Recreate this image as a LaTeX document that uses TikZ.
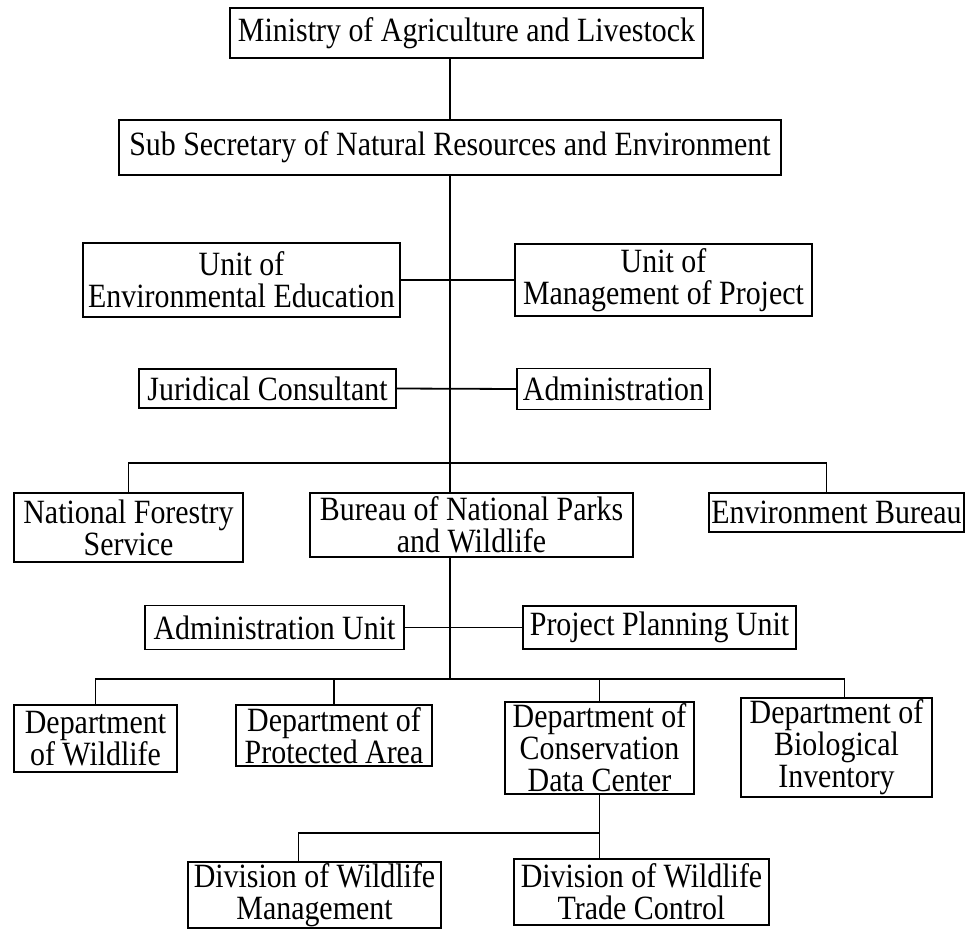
\documentclass[tikz,border=0pt]{standalone}
\usepackage{fontspec}
\setmainfont{Liberation Serif}[FakeStretch=0.88]
\usepackage{tikz}
\usetikzlibrary{calc}

\tikzset{
  box/.style={draw, line width=0.9pt, align=center, inner sep=0pt, font=\fontsize{17}{16}\selectfont},
  link/.style={line width=0.9pt},
  trunk/.style={line width=1.4pt}
}

\begin{document}
\begin{tikzpicture}[x=0.5pt,y=-0.5pt]
\useasboundingbox (0,0) rectangle (967,930);

% top levels
\node[box, minimum width=236.5pt, minimum height=25pt] (ministry) at (466.5,33) {Ministry of Agriculture and Livestock};
\node[box, minimum width=331pt, minimum height=27.5pt] (subsec) at (450,147.5) {Sub Secretary of Natural Resources and Environment};
\node[box, minimum width=158.5pt, minimum height=37pt] (enved) at (241.5,280) {Unit of\\Environmental Education};
\node[box, minimum width=148.5pt, minimum height=36pt] (mgmt) at (663.5,280) {Unit of\\Management of Project};
\node[box, minimum width=128.5pt, minimum height=19.5pt] (jurid) at (267.5,388.5) {Juridical Consultant};
\node[box, minimum width=96.5pt, minimum height=20.5pt] (admin) at (613.5,389) {Administration};

% bureaus
\node[box, minimum width=114.5pt, minimum height=34.5pt] (forestry) at (128.5,527.5) {National Forestry\\Service};
\node[box, minimum width=161.5pt, minimum height=32pt] (bureau) at (471.5,525) {Bureau of National Parks\\and Wildlife};
\node[box, minimum width=127.5pt, minimum height=19.5pt] (envbur) at (836.5,512.5) {Environment Bureau};
\node[box, minimum width=129.5pt, minimum height=22pt] (adminunit) at (274.5,627.5) {Administration Unit};
\node[box, minimum width=136.5pt, minimum height=21.5pt] (planning) at (659.5,627.5) {Project Planning Unit};

% departments
\node[box, minimum width=81.5pt, minimum height=33.5pt] (deptwild) at (95.5,738.5) {Department\\of Wildlife};
\node[box, minimum width=98pt, minimum height=30.5pt] (deptprot) at (334,735.5) {Department of\\Protected Area};
\node[box, minimum width=94.5pt, minimum height=46pt] (deptcdc) at (599.5,748) {Department of\\Conservation\\Data Center};
\node[box, minimum width=95.5pt, minimum height=49.5pt] (deptbio) at (836.5,747.5) {Department of\\Biological\\Inventory};

% divisions
\node[box, minimum width=126.5pt, minimum height=33pt] (divmgmt) at (314.5,895) {Division of Wildlife\\Management};
\node[box, minimum width=127.5pt, minimum height=33pt] (divtrade) at (641.5,892) {Division of Wildlife\\Trade Control};

\coordinate (bus1) at (450,463);
\coordinate (bus2) at (450,679);
\coordinate (bus3) at (600,833);

% connectors
\draw[trunk] (ministry.south -| subsec.north) -- (subsec.north);
\draw[trunk] (subsec.south) -- (subsec.south |- bureau.north);
\draw[link] (enved.east) -- (mgmt.west);
\draw[link] (jurid.east) -- (admin.west);
\draw[link] (forestry.north) |- ([xshift=-5pt]envbur.north |- bus1) -- ([xshift=-5pt]envbur.north);
\draw[trunk] (subsec.south |- bureau.south) -- (bus2);
\draw[link] (adminunit.east) -- (planning.west);
\draw[link] (deptwild.north) |- ([xshift=4pt]deptbio.north |- bus2) -- ([xshift=4pt]deptbio.north);
\draw[link] (deptprot.north) -- (deptprot.north |- bus2);
\draw[link] (deptcdc.north) -- (deptcdc.north |- bus2);
\draw[link] (deptcdc.south) -- (deptcdc.south |- divtrade.north);
\draw[link] ([xshift=-8pt]divmgmt.north) |- (deptcdc.south |- bus3);
\end{tikzpicture}
\end{document}
